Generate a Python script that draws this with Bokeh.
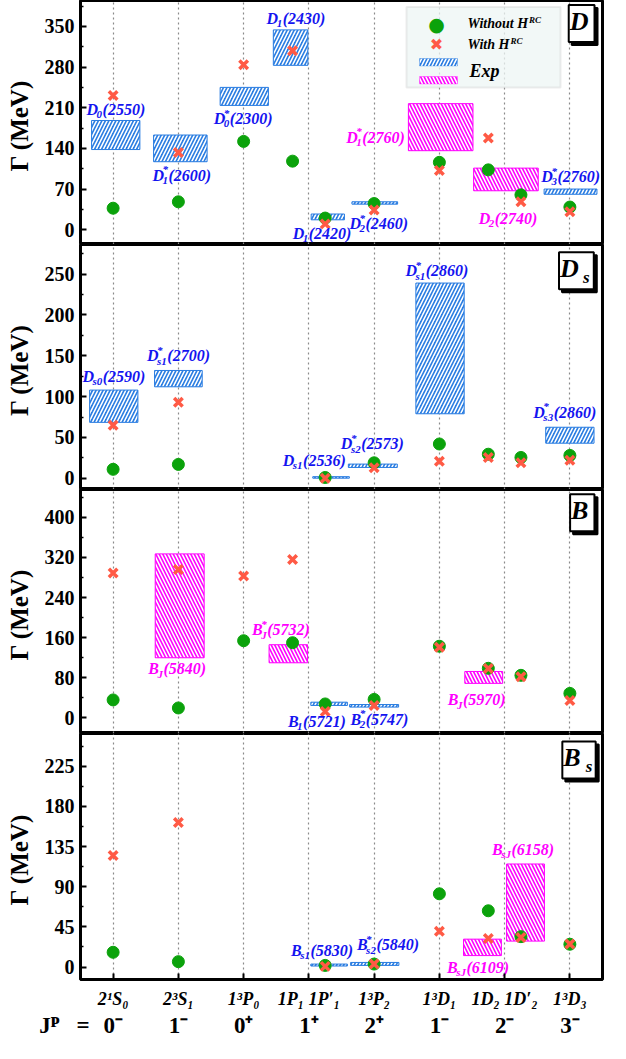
import numpy as np
from bokeh.plotting import figure
from bokeh.layouts import column
from bokeh.models import FixedTicker, Range1d, Label, BoxAnnotation, ColumnDataSource
from bokeh.embed import file_html
from bokeh.resources import INLINE
from bokeh.core.properties import value

NaN = np.nan

# ---------------- data ----------------
cat_pos = [1, 2, 3, 4, 5, 6, 7, 8]
state_labels = ["2¹S₀", "2³S₁", "1³P₀", "1P₁ 1P′₁", "1³P₂", "1³D₁", "1D₂ 1D′₂", "1³D₃"]
jp_labels = ["0⁻", "1⁻", "0⁺", "1⁺", "2⁺", "1⁻", "2⁻", "3⁻"]
jp_header = "J\u1d3e\u00a0\u00a0\u00a0="
state_x = [1, 2, 3, 3.75, 4.25, 5, 6, 6.75, 7.25, 8]

# D mesons
d_without = [37, 48, 152, 118, 20, 45, 116, 103, 60, 39]
d_with = [231, 133, 284, 308, 10, 34, 102, 158, 48, 31]
d_exp_letter = ["D", "D", "D", "D", "D", "D", "D", "D", "D"]
d_exp_sub = ["0", "1", "0", "1", "1", "2", "1", "2", "3"]
d_exp_star = [False, True, True, False, False, True, True, False, True]
d_exp_mass = ["2550", "2600", "2300", "2430", "2420", "2460", "2760", "2740", "2760"]
d_exp_x = [1.04, 2.03, 3.01, 3.72, 4.29, 5.01, 6.02, 7.02, 8.01]
d_exp_w = [0.74, 0.82, 0.74, 0.53, 0.51, 0.70, 0.99, 0.99, 0.81]
d_exp_lo = [138, 117, 214, 283, 17, 44, 136, 67, 61]
d_exp_hi = [188, 163, 245, 344, 27, 48, 217, 106, 70]
d_exp_kind = ["b", "b", "b", "b", "b", "b", "m", "m", "b"]
d_lab_x = [1.05, 2.06, 3.0, 3.81, 4.21, 5.08, 5.03, 7.06, 8.02]
d_lab_y = [207, 94, 191, 364, -7, 10, 159, 19, 91]

# Ds mesons
ds_without = [11, 17, NaN, NaN, 1, 19, 42, 29.5, 25.5, 28]
ds_with = [65, 93, NaN, NaN, 0, 13, 21, 25.5, 19, 22]
ds_exp_letter = ["D", "D", "D", "D", "D", "D"]
ds_exp_sub = ["s0", "s1", "s1", "s2", "s1", "s3"]
ds_exp_star = [False, True, False, True, True, True]
ds_exp_mass = ["2590", "2700", "2536", "2573", "2860", "2860"]
ds_exp_x = [1.01, 2.0, 4.34, 4.98, 6.01, 8.0]
ds_exp_w = [0.74, 0.73, 0.56, 0.75, 0.74, 0.74]
ds_exp_lo = [68.5, 112, 0.2, 13.3, 79, 43]
ds_exp_hi = [108, 132, 2.0, 17.4, 239, 62.5]
ds_exp_kind = ["b", "b", "b", "b", "b", "b"]
ds_lab_x = [1.02, 2.01, 4.09, 4.98, 5.97, 7.93]
ds_lab_y = [125, 150, 22, 42, 254, 81]

# B mesons
b_without = [36, 20, 154, 150, 28, 37, 143, 99, 85, 49]
b_with = [289, 296, 283, 316, 13, 25, 141, 98.5, 82, 35]
b_exp_letter = ["B", "B", "B", "B", "B"]
b_exp_sub = ["J", "J", "1", "2", "J"]
b_exp_star = [False, True, False, True, False]
b_exp_mass = ["5840", "5732", "5721", "5747", "5970"]
b_exp_x = [2.02, 3.685, 4.31, 5.0, 6.68]
b_exp_w = [0.75, 0.59, 0.56, 0.75, 0.58]
b_exp_lo = [120, 110, 25, 21.7, 69]
b_exp_hi = [327, 146, 31.5, 26.8, 92.7]
b_exp_kind = ["m", "m", "b", "b", "m"]
b_lab_x = [1.99, 3.58, 4.13, 5.09, 6.58]
b_lab_y = [98, 176, -6, -3, 36]

# Bs mesons
bs_without = [16.5, 6, NaN, NaN, 1.8, 3.3, 82, 63, 34, 25.5]
bs_with = [125, 162, NaN, NaN, 0.7, 3.3, 40, 32, 33, 25.7]
bs_exp_letter = ["B", "B", "B", "B"]
bs_exp_sub = ["s1", "s2", "sJ", "sJ"]
bs_exp_star = [False, True, False, False]
bs_exp_mass = ["5830", "5840", "6109", "6158"]
bs_exp_x = [4.31, 5.01, 6.66, 7.32]
bs_exp_w = [0.56, 0.74, 0.58, 0.58]
bs_exp_lo = [1.1, 1.8, 12.8, 29]
bs_exp_hi = [3.3, 5.1, 31.2, 115.4]
bs_exp_kind = ["b", "b", "m", "m"]
bs_lab_x = [4.21, 5.22, 6.6, 7.29]
bs_lab_y = [19, 25, -0.5, 132]

# ---------------- style ----------------
FONT = "Liberation Serif"
BLUE = "#2a7de1"
MAG = "#ff00ff"
LBLUE = "#1414f0"
LMAG = "#ff00ff"
GREEN = "#0ba20b"
RED = "#ff5a45"
FRAME_W = 522
HS, HW = 7, 1.6

W = {"D": 0.722, "B": 0.667, "s": 0.389, "J": 0.5, "*": 0.5, "(": 0.333, ")": 0.333,
     "W": 0.889, "i": 0.278, "t": 0.278, "h": 0.556, "o": 0.5, "u": 0.556, " ": 0.25, "H": 0.778}


def tw(s):
    return sum(W.get(c, 0.5) for c in s)


def base_fig(ylo, yhi, h, bottom_border=0, xloc=None):
    p = figure(frame_width=FRAME_W, frame_height=h,
               x_range=Range1d(0.5, 8.5), y_range=Range1d(ylo, yhi),
               output_backend="svg", toolbar_location=None,
               x_axis_location=xloc,
               min_border_left=80, min_border_right=2,
               min_border_top=0, min_border_bottom=bottom_border)
    p.background_fill_color = "white"
    p.border_fill_color = "white"
    for g in p.ygrid:
        g.visible = False
    return p


def make_panel(ylo, yhi, ticks, minor, h, bottom=False):
    p = base_fig(ylo, yhi, h, 32 if bottom else 0, "below" if bottom else None)
    p.outline_line_color = "black"
    p.outline_line_width = 3
    p.outline_line_alpha = 1
    for g in p.xgrid:
        g.ticker = FixedTicker(ticks=cat_pos)
        g.grid_line_color = "#8a8a8a"
        g.grid_line_dash = "2 3"
        g.grid_line_width = 1.2
    ya = p.yaxis[0]
    ya.ticker = FixedTicker(ticks=ticks, minor_ticks=minor)
    ya.axis_label = "Γ  (MeV)"
    ya.axis_label_text_font = FONT
    ya.axis_label_text_font_size = "25px"
    ya.axis_label_text_font_style = "bold"
    ya.axis_label_text_color = "black"
    ya.axis_label_standoff = 9
    ya.major_label_text_font = FONT
    ya.major_label_text_font_size = "20px"
    ya.major_label_text_font_style = "bold"
    ya.major_label_text_color = "black"
    ya.major_label_standoff = 6
    ya.axis_line_width = 2
    ya.major_tick_in = 6
    ya.major_tick_out = 0
    ya.minor_tick_in = 3
    ya.minor_tick_out = 0
    ya.major_tick_line_width = 2
    ya.minor_tick_line_width = 1.5
    return p


def draw_panel(p, without, with_, ex, ew, elo, ehi, ekind, letters, subs, stars, masses, lx, ly):
    fills = [BLUE if k == "b" else MAG for k in ekind]
    hatches = ["/" if k == "b" else "\\" for k in ekind]
    src = ColumnDataSource(dict(
        left=[x - w / 2 for x, w in zip(ex, ew)],
        right=[x + w / 2 for x, w in zip(ex, ew)],
        top=ehi, bottom=elo, fill=fills, hatch=hatches))
    p.quad(left="left", right="right", top="top", bottom="bottom", source=src,
           fill_color="fill", line_color="fill", line_width=1,
           hatch_pattern="hatch", hatch_color="white", hatch_scale=HS, hatch_weight=HW)
    p.scatter(state_x, np.array(without, dtype=float), marker="circle", size=12,
              fill_color=GREEN, line_color=GREEN)
    p.scatter(state_x, np.array(with_, dtype=float), marker="x", size=12,
              line_color=RED, line_width=3.5)

    F, f = 16, 11
    main_o, sub_o, rest_o, rest_t, cols, star_t = [], [], [], [], [], []
    for L, s, st, m, k in zip(letters, subs, stars, masses, ekind):
        mw = tw(L) * F
        sw = max(tw(s), 0.5 if st else 0) * f
        rest = "(" + m + ")"
        rw = tw(rest) * F
        total = mw + sw + rw
        x0 = -total / 2
        main_o.append(x0)
        sub_o.append(x0 + mw - 1.5)
        rest_o.append(x0 + mw + sw - 1)
        rest_t.append(rest)
        star_t.append("*" if st else "")
        cols.append(LBLUE if k == "b" else LMAG)
    s = ColumnDataSource(dict(x=lx, y=ly, main=letters, sub=subs, star=star_t, rest=rest_t,
                              mo=main_o, so=sub_o, ro=rest_o, c=cols))
    common = dict(x="x", y="y", source=s, text_font=value(FONT), text_font_style="bold italic",
                  text_color="c", text_align="left", text_baseline="middle")
    p.text(text="main", x_offset="mo", text_font_size=f"{F}px", **common)
    p.text(text="rest", x_offset="ro", text_font_size=f"{F}px", **common)
    p.text(text="sub", x_offset="so", y_offset=5, text_font_size=f"{f}px", **common)
    p.text(text="star", x_offset="so", y_offset=-6, text_font_size=f"{f}px", **common)


def panel_tag(p, x, y, txt, sub, pxu, pyu):
    pad = (1, 15 if sub else 6, 2, 6)
    for dx, dy, bg in ((3, -3, "black"), (0, 0, "white")):
        p.add_layout(Label(x=x + dx * pxu, y=y + dy * pyu, text=txt, text_font=FONT,
                           text_font_size="26px", text_font_style="bold italic",
                           text_color="black", text_align="center", text_baseline="middle",
                           background_fill_color=bg, background_fill_alpha=1,
                           border_line_color="black", border_line_width=2, padding=pad))
    if sub:
        p.add_layout(Label(x=x + 10 * pxu, y=y - 7 * pyu, text=sub, text_font=FONT,
                           text_font_size="17px", text_font_style="bold italic",
                           text_color="black", text_align="center", text_baseline="middle"))


FH = [244, 245, 244, 246]
RANGES = [(-25.5, 394.6), (-13.7, 286.2), (-30.9, 455.3), (-14.0, 261.6)]
XU = 8.0 / FRAME_W


def px2x(px):
    return 0.5 + (px - 88) / 65.25


# ---- panel D ----
pD = make_panel(*RANGES[0], [0, 70, 140, 210, 280, 350], [35, 105, 175, 245, 315, 385], FH[0])
draw_panel(pD, d_without, d_with, d_exp_x, d_exp_w, d_exp_lo, d_exp_hi, d_exp_kind,
           d_exp_letter, d_exp_sub, d_exp_star, d_exp_mass, d_lab_x, d_lab_y)
yuD = (RANGES[0][1] - RANGES[0][0]) / FH[0]
panel_tag(pD, 8.18, 355, "D", None, XU, yuD)


def py2yD(py):
    return RANGES[0][1] - (py - 3) * yuD


# legend (annotations)
pD.add_layout(BoxAnnotation(left=px2x(414), right=px2x(568), top=py2yD(9.5), bottom=py2yD(90),
                            fill_color="#eef6f4", fill_alpha=0.75,
                            line_color="#c4c4c4", line_width=2))
pD.add_layout(BoxAnnotation(left=px2x(427), right=px2x(465), top=py2yD(61), bottom=py2yD(68.5),
                            fill_color=BLUE, fill_alpha=1, line_color=BLUE, line_width=1,
                            hatch_pattern="/", hatch_color="white", hatch_scale=HS, hatch_weight=HW))
pD.add_layout(BoxAnnotation(left=px2x(427), right=px2x(465), top=py2yD(79), bottom=py2yD(86.5),
                            fill_color=MAG, fill_alpha=1, line_color=MAG, line_width=1,
                            hatch_pattern="\\", hatch_color="white", hatch_scale=HS, hatch_weight=HW))
pD.add_layout(Label(x=px2x(444), y=py2yD(26), text="●", text_font="DejaVu Sans",
                    text_font_size="19px", text_color=GREEN, text_align="center", text_baseline="middle"))
pD.add_layout(Label(x=px2x(444), y=py2yD(47), text="✖", text_font="DejaVu Sans",
                    text_font_size="16px", text_color=RED, text_align="center", text_baseline="middle"))
for txt, yy in (("Without H", 26), ("With H", 47)):
    lab_w = tw(txt) * 14
    pD.add_layout(Label(x=px2x(475), y=py2yD(yy), text=txt, text_font=FONT, text_font_size="14px",
                        text_font_style="bold italic", text_color="black",
                        text_align="left", text_baseline="middle"))
    pD.add_layout(Label(x=px2x(475), x_offset=lab_w + 0.5, y=py2yD(yy - 4), text="RC", text_font=FONT,
                        text_font_size="9px", text_font_style="bold italic", text_color="black",
                        text_align="left", text_baseline="middle"))
pD.add_layout(Label(x=px2x(477), y=py2yD(73), text="Exp", text_font=FONT, text_font_size="18px",
                    text_font_style="bold italic", text_color="black",
                    text_align="left", text_baseline="middle"))

# ---- panel Ds ----
pDs = make_panel(*RANGES[1], [0, 50, 100, 150, 200, 250], [25, 75, 125, 175, 225, 275], FH[1])
draw_panel(pDs, ds_without, ds_with, ds_exp_x, ds_exp_w, ds_exp_lo, ds_exp_hi, ds_exp_kind,
           ds_exp_letter, ds_exp_sub, ds_exp_star, ds_exp_mass, ds_lab_x, ds_lab_y)
yuDs = (RANGES[1][1] - RANGES[1][0]) / FH[1]
panel_tag(pDs, 8.10, 254, "D", "s", XU, yuDs)

# ---- panel B ----
pB = make_panel(*RANGES[2], [0, 80, 160, 240, 320, 400], [40, 120, 200, 280, 360, 440], FH[2])
draw_panel(pB, b_without, b_with, b_exp_x, b_exp_w, b_exp_lo, b_exp_hi, b_exp_kind,
           b_exp_letter, b_exp_sub, b_exp_star, b_exp_mass, b_lab_x, b_lab_y)
yuB = (RANGES[2][1] - RANGES[2][0]) / FH[2]
panel_tag(pB, 8.19, 409, "B", None, XU, yuB)

# ---- panel Bs ----
pBs = make_panel(*RANGES[3], [0, 45, 90, 135, 180, 225], [22.5, 67.5, 112.5, 157.5, 202.5, 247.5],
                 FH[3], bottom=True)
draw_panel(pBs, bs_without, bs_with, bs_exp_x, bs_exp_w, bs_exp_lo, bs_exp_hi, bs_exp_kind,
           bs_exp_letter, bs_exp_sub, bs_exp_star, bs_exp_mass, bs_lab_x, bs_lab_y)
yuBs = (RANGES[3][1] - RANGES[3][0]) / FH[3]
panel_tag(pBs, 8.14, 232, "B", "s", XU, yuBs)

xa = pBs.xaxis[0]
xa.ticker = FixedTicker(ticks=cat_pos, minor_ticks=[])
xa.major_label_overrides = {c: s for c, s in zip(cat_pos, state_labels)}
xa.major_label_text_font = FONT
xa.major_label_text_font_size = "18px"
xa.major_label_text_font_style = "bold italic"
xa.major_label_text_color = "black"
xa.major_label_standoff = 9
xa.major_tick_in = 6
xa.major_tick_out = 0
xa.major_tick_line_width = 2
xa.axis_line_width = 2

# ---- J^P row: a strip figure aligned with the panels ----
pJ = base_fig(0, 1, 28, 0, None)
pJ.outline_line_color = None
for g in pJ.xgrid:
    g.visible = False
jy = pJ.yaxis[0]
jy.ticker = FixedTicker(ticks=[0.5], minor_ticks=[])
jy.major_label_overrides = {0.5: jp_header}
jy.major_label_text_font = FONT
jy.major_label_text_font_size = "23px"
jy.major_label_text_font_style = "bold"
jy.major_label_text_color = "black"
jy.major_label_standoff = -9
jy.major_tick_in = 0
jy.major_tick_out = 0
jy.minor_tick_in = 0
jy.minor_tick_out = 0
jy.axis_line_color = None
jy.major_tick_line_color = None
jy.minor_tick_line_color = None
jsrc = ColumnDataSource(dict(x=cat_pos, y=[0.5] * len(cat_pos), t=jp_labels))
pJ.text(x="x", y="y", text="t", source=jsrc, text_font=value(FONT), text_font_size="23px",
        text_font_style="bold", text_color="black", text_align="center", text_baseline="middle")

layout = column(pD, pDs, pB, pBs, pJ, spacing=0)
open("out.html", "w").write(file_html(layout, INLINE))
